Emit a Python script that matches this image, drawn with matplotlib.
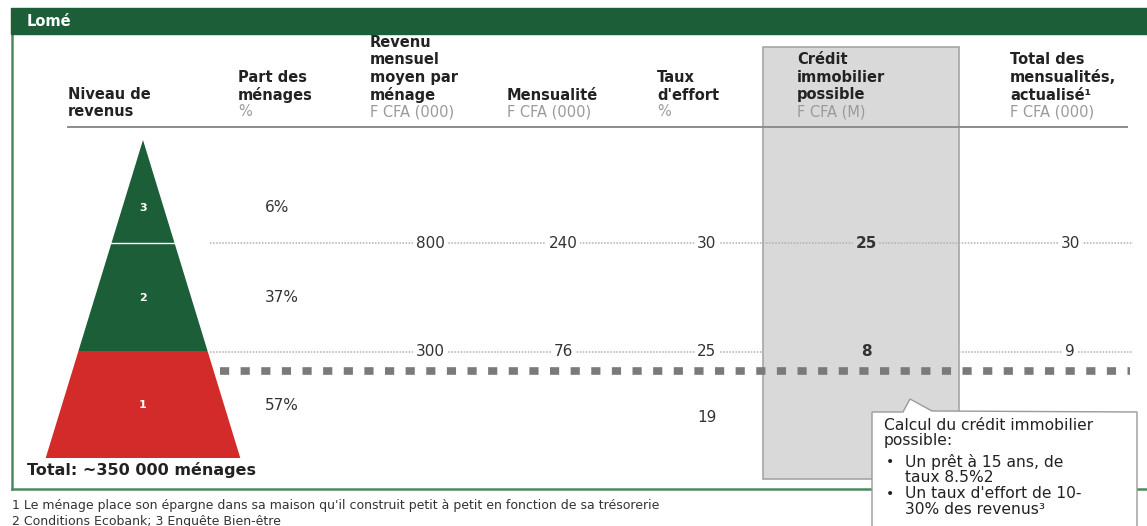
import matplotlib
matplotlib.use("Agg")
import matplotlib.pyplot as plt
from matplotlib.patches import Polygon, Rectangle

plt.rcParams["font.family"] = ["DejaVu Sans"]

# ── données ───────────────────────────────────────────────────────────────
city = "Lomé"
levels = ["3", "2", "1"]
shares = ["6%", "37%", "57%"]
revenu = ["800", "300", ""]
mensualite = ["240", "76", ""]
taux = ["30", "25", "19"]
credit = ["25", "8", ""]
total_act = ["30", "9", ""]
total_label = "Total: ~350 000 ménages"

headers = [
    ("Niveau de\nrevenus", ""),
    ("Part des\nménages", "%"),
    ("Revenu\nmensuel\nmoyen par\nménage", "F CFA (000)"),
    ("Mensualité", "F CFA (000)"),
    ("Taux\nd'effort", "%"),
    ("Crédit\nimmobilier\npossible", "F CFA (M)"),
    ("Total des\nmensualités,\nactualisé¹", "F CFA (000)"),
]
callout_lines = [
    ("", "Calcul du crédit immobilier"),
    ("", "possible:"),
    ("•", "Un prêt à 15 ans, de"),
    ("", "taux 8.5%2"),
    ("•", "Un taux d'effort de 10-"),
    ("", "30% des revenus³"),
]
footnotes = [
    "1 Le ménage place son épargne dans sa maison qu'il construit petit à petit en fonction de sa trésorerie",
    "2 Conditions Ecobank; 3 Enquête Bien-être",
]

# ── mise en page (pixels) ────────────────────────────────────────────────
GREEN = "#1b5e38"
RED = "#d32a2a"
GREY_BOX = "#d9d9d9"
head_x = [68, 238, 370, 507, 657, 797, 1010]
num_x = [430, 563, 707, 866, 1070]
tier_y = [140, 243, 351, 458]          # sommet + bas de chaque niveau
row_y = [243, 352, 417]
share_y = [208, 298, 405]
apex_x, slope = 143, 0.306

fig = plt.figure(figsize=(11.47, 5.26), dpi=100)
ax = fig.add_axes([0, 0, 1, 1])
ax.set_xlim(0, 1147)
ax.set_ylim(526, 0)
ax.axis("off")

# cadre vert + bandeau
ax.add_patch(Rectangle((11, 8), 1140, 26, color=GREEN, zorder=5))
ax.text(27, 21.5, city, color="white", fontsize=10.5, fontweight="bold",
        va="center", zorder=6)
ax.plot([12, 12], [34, 489], color="#4a8a62", lw=1.8, zorder=1)
ax.plot([12, 1147], [489, 489], color="#4a8a62", lw=1.8, zorder=1)

# colonne grisée
ax.add_patch(Rectangle((763, 47), 196, 432, facecolor=GREY_BOX,
                       edgecolor="#a6a6a6", lw=1.2, zorder=1))

# en-têtes
step = 17.6
for (bold, unit), x in zip(headers, head_x):
    lines = bold.split("\n")
    last = 112 if unit == "" else 95
    for i, ln in enumerate(lines):
        ax.text(x, last - step * (len(lines) - 1 - i), ln, fontsize=10.5,
                fontweight="bold", color="#222222", va="center", zorder=3)
    if unit:
        ax.text(x, 112, unit, fontsize=10.5, color="#9a9a9a", va="center", zorder=3)
ax.plot([68, 1127], [127, 127], color="#8c8c8c", lw=1.4, zorder=3)

# pyramide
colors = [GREEN, GREEN, RED]
for i, lvl in enumerate(levels):
    y0, y1 = tier_y[i], tier_y[i + 1]
    h0, h1 = (y0 - tier_y[0]) * slope, (y1 - tier_y[0]) * slope
    ax.add_patch(Polygon([(apex_x - h0, y0), (apex_x + h0, y0),
                          (apex_x + h1, y1), (apex_x - h1, y1)],
                         closed=True, facecolor=colors[i], edgecolor="none", zorder=2))
    ax.text(apex_x, share_y[i], lvl, color="white", fontsize=8,
            fontweight="bold", ha="center", va="center", zorder=3)
    ax.text(265, share_y[i], shares[i], fontsize=11, color="#333333",
            va="center", zorder=3)
h = (tier_y[1] - tier_y[0]) * slope
ax.plot([apex_x - h, apex_x + h], [tier_y[1], tier_y[1]], color="white", lw=1, zorder=3)

# lignes pointillées + valeurs
dot = dict(color="#b0b0b0", lw=1.1, linestyle=(0, (1, 1)), zorder=2)
ax.plot([210, 1133], [row_y[0], row_y[0]], **dot)
ax.plot([210, 763], [row_y[1], row_y[1]], **dot)
ax.plot([959, 1133], [row_y[1], row_y[1]], **dot)
columns = [revenu, mensualite, taux, credit, total_act]
for j, col in enumerate(columns):
    bg = GREY_BOX if j == 3 else "white"
    for i, val in enumerate(col):
        if not val:
            continue
        ax.text(num_x[j], row_y[i], val, fontsize=11, color="#333333",
                fontweight="bold" if j == 3 else "normal",
                ha="center", va="center", zorder=4,
                bbox=dict(facecolor=bg, edgecolor="none", pad=2))

# ligne de seuil épaisse
ax.plot([220, 1130], [371, 371], color="#7a7a7a", lw=5.5,
        linestyle=(0, (1.2, 1.5)), dash_capstyle="butt", zorder=3)

ax.text(27, 470, total_label, fontsize=11.5, fontweight="bold",
        color="#222222", va="center", zorder=3)

# bulle de commentaire
ax.add_patch(Polygon([(872, 412), (903, 412), (910, 399), (932, 411),
                      (1137, 412), (1137, 540), (872, 540)],
                     closed=True, facecolor="white", edgecolor="#9a9a9a",
                     lw=1, zorder=6, clip_on=False))
cy = [425, 441, 462, 478, 494, 510]
for k, ((bul, txt), y) in enumerate(zip(callout_lines, cy)):
    if bul:
        ax.text(886, y, bul, fontsize=10, color="#222222", va="center", zorder=7)
    tx = 884 if k < 2 else 905
    ax.text(tx, y, txt, fontsize=11.2, color="#222222", va="center", zorder=7)

# notes
for k, note in enumerate(footnotes):
    ax.text(12, 506 + 15 * k, note, fontsize=9, color="#333333", va="center")

fig.savefig("out.png", dpi=100)
plt.close(fig)
